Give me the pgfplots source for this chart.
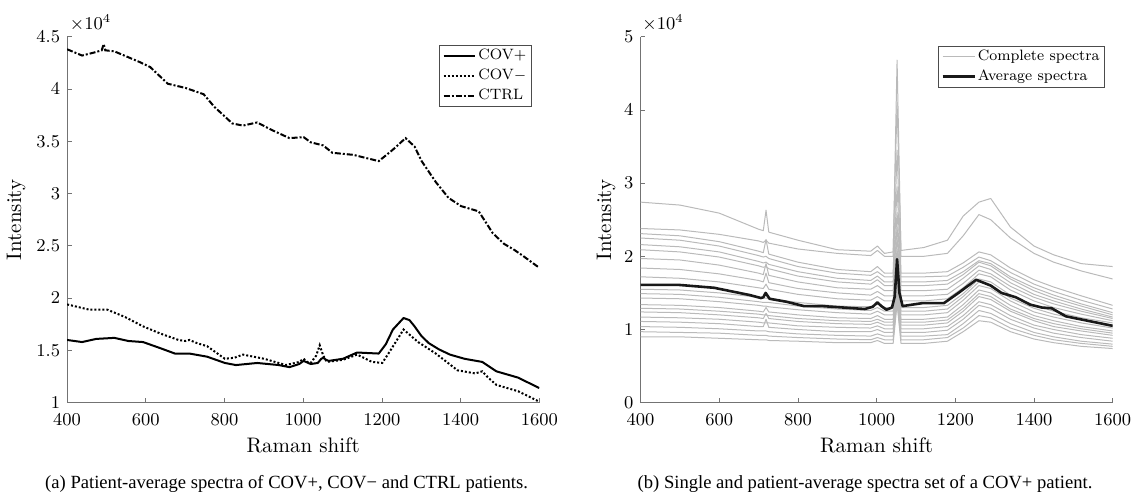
\documentclass[border=0pt]{standalone}
\usepackage{fontspec}
\usepackage{pgfplots}
\usepackage{pgfplotstable}
\pgfplotsset{compat=1.18}
\newfontfamily\capfont{Liberation Serif}

% patient averages, intensity in units of 10^4
\pgfplotstableread{
x y
400 1.60
438 1.58
474 1.61
520 1.62
556 1.59
593 1.58
638 1.52
674 1.47
711 1.47
756 1.44
801 1.38
829 1.36
883 1.38
938 1.36
965 1.34
990 1.37
1001 1.40
1019 1.37
1037 1.38
1046 1.42
1051 1.43
1058 1.41
1065 1.40
1101 1.42
1137 1.48
1192 1.47
1210 1.56
1228 1.70
1255 1.81
1270 1.79
1283 1.73
1300 1.64
1319 1.57
1345 1.51
1373 1.46
1410 1.42
1455 1.39
1491 1.30
1546 1.24
1600 1.14
}\covp

\pgfplotstableread{
x y
400 1.94
456 1.89
502 1.89
547 1.82
593 1.73
638 1.66
683 1.60
700 1.59
711 1.60
730 1.57
756 1.54
801 1.42
825 1.43
847 1.46
901 1.42
956 1.36
990 1.39
1001 1.42
1010 1.39
1019 1.38
1033 1.45
1042 1.55
1051 1.45
1060 1.39
1101 1.41
1137 1.46
1175 1.39
1201 1.38
1225 1.52
1255 1.70
1292 1.58
1337 1.47
1392 1.31
1437 1.28
1455 1.30
1470 1.24
1491 1.17
1546 1.11
1600 1.01
}\covm

\pgfplotstableread{
x y
400 4.38
438 4.32
470 4.35
488 4.37
493 4.43
497 4.37
520 4.36
583 4.26
611 4.21
656 4.05
701 4.01
747 3.95
774 3.83
820 3.67
847 3.65
883 3.68
919 3.61
965 3.53
1001 3.54
1019 3.49
1051 3.46
1074 3.39
1128 3.37
1192 3.31
1228 3.42
1260 3.53
1283 3.45
1301 3.31
1337 3.11
1369 2.96
1401 2.88
1446 2.83
1482 2.62
1510 2.52
1537 2.46
1560 2.40
1600 2.29
}\ctrl

% single spectra of one COV+ patient
\pgfplotstableread{
x s1 s2 s3 s4 s5 s6 s7 s8 s9 s10 s11 s12 s13 s14 s15 s16 s17 s18 s19 s20
400 2.74 2.38 2.31 2.25 2.16 2.09 1.97 1.84 1.72 1.55 1.49 1.43 1.34 1.29 1.24 1.17 1.11 1.04 0.97 0.90
500 2.70 2.36 2.28 2.22 2.13 2.06 1.95 1.82 1.70 1.54 1.48 1.42 1.33 1.28 1.23 1.16 1.10 1.03 0.96 0.90
600 2.59 2.30 2.20 2.14 2.06 1.99 1.88 1.76 1.65 1.50 1.44 1.38 1.30 1.25 1.20 1.14 1.08 1.01 0.95 0.88
700 2.37 2.21 2.07 2.01 1.93 1.87 1.77 1.67 1.57 1.44 1.38 1.33 1.25 1.21 1.16 1.10 1.04 0.98 0.92 0.86
712 2.35 2.19 2.05 1.99 1.91 1.85 1.75 1.65 1.56 1.43 1.37 1.32 1.24 1.20 1.15 1.09 1.04 0.98 0.92 0.86
719 2.63 2.22 2.23 2.00 1.92 1.86 1.90 1.77 1.62 1.43 1.37 1.32 1.30 1.20 1.22 1.09 1.14 0.98 0.92 0.86
726 2.33 2.18 2.03 1.97 1.89 1.83 1.74 1.64 1.55 1.42 1.37 1.31 1.24 1.19 1.15 1.09 1.03 0.97 0.91 0.85
800 2.22 2.10 1.92 1.86 1.79 1.73 1.65 1.56 1.48 1.37 1.32 1.27 1.20 1.15 1.11 1.05 1.00 0.94 0.89 0.84
900 2.09 2.04 1.82 1.77 1.70 1.65 1.57 1.50 1.42 1.32 1.28 1.23 1.16 1.12 1.08 1.03 0.97 0.92 0.87 0.82
985 2.07 2.01 1.79 1.74 1.67 1.62 1.55 1.47 1.40 1.31 1.26 1.21 1.15 1.11 1.07 1.02 0.97 0.91 0.86 0.82
1002 2.14 2.08 1.86 1.79 1.73 1.68 1.60 1.52 1.45 1.35 1.30 1.25 1.19 1.14 1.10 1.05 1.00 0.94 0.89 0.85
1020 2.04 2.00 1.77 1.72 1.65 1.60 1.53 1.46 1.39 1.30 1.25 1.20 1.14 1.10 1.06 1.01 0.96 0.91 0.86 0.81
1042 2.06 2.00 1.77 1.72 1.65 1.60 1.53 1.46 1.39 1.30 1.25 1.20 1.14 1.10 1.06 1.01 0.96 0.91 0.86 0.81
1052 4.10 4.68 3.45 2.95 2.60 2.40 2.25 2.10 2.00 1.90 1.80 1.75 1.70 1.65 1.60 1.55 1.50 1.45 1.40 1.35
1062 2.08 2.00 1.77 1.72 1.65 1.60 1.53 1.46 1.39 1.30 1.25 1.20 1.14 1.10 1.06 1.01 0.96 0.91 0.86 0.81
1120 2.12 2.00 1.77 1.72 1.65 1.60 1.53 1.46 1.39 1.30 1.25 1.20 1.14 1.10 1.06 1.01 0.96 0.91 0.86 0.81
1180 2.22 2.04 1.79 1.73 1.67 1.62 1.55 1.48 1.42 1.33 1.28 1.23 1.17 1.13 1.09 1.04 0.99 0.93 0.89 0.84
1220 2.55 2.28 1.91 1.85 1.79 1.75 1.70 1.63 1.57 1.49 1.45 1.40 1.34 1.29 1.25 1.19 1.14 1.08 1.02 0.97
1260 2.74 2.57 2.06 1.99 1.94 1.92 1.87 1.81 1.76 1.69 1.65 1.60 1.54 1.49 1.45 1.38 1.33 1.26 1.19 1.12
1290 2.79 2.50 2.02 1.94 1.90 1.87 1.82 1.76 1.72 1.65 1.61 1.56 1.50 1.45 1.41 1.34 1.29 1.22 1.16 1.10
1340 2.40 2.25 1.84 1.78 1.72 1.69 1.64 1.59 1.54 1.47 1.43 1.39 1.33 1.28 1.25 1.19 1.14 1.08 1.02 0.97
1400 2.14 2.04 1.68 1.62 1.57 1.53 1.48 1.44 1.39 1.33 1.29 1.24 1.19 1.15 1.12 1.06 1.02 0.96 0.92 0.87
1450 2.02 1.92 1.58 1.52 1.47 1.43 1.39 1.35 1.30 1.25 1.21 1.17 1.12 1.08 1.04 1.00 0.95 0.90 0.86 0.82
1520 1.90 1.80 1.46 1.40 1.35 1.32 1.28 1.25 1.21 1.16 1.13 1.09 1.04 1.01 0.98 0.93 0.89 0.84 0.81 0.77
1600 1.86 1.69 1.33 1.28 1.23 1.20 1.17 1.15 1.12 1.09 1.06 1.02 0.98 0.95 0.92 0.88 0.84 0.80 0.77 0.74
}\greytab

\pgfplotstableread{
x y
400 1.61
496 1.61
587 1.57
678 1.47
706 1.43
712 1.44
718 1.50
728 1.42
770 1.38
815 1.32
861 1.32
916 1.30
970 1.28
990 1.31
1002 1.37
1012 1.32
1025 1.27
1039 1.30
1046 1.45
1052 1.96
1058 1.50
1066 1.32
1116 1.36
1171 1.36
1208 1.50
1253 1.68
1290 1.60
1317 1.50
1354 1.44
1390 1.34
1420 1.30
1445 1.29
1481 1.18
1545 1.11
1600 1.05
}\avg

\pgfplotsset{
  matlab/.style={
    scale only axis, width=236.1pt, height=183pt,
    axis x line*=bottom, axis y line*=left,
    axis line style={black!55, line width=0.4pt},
    tick align=inside, major tick length=2.2pt,
    tick style={black!55, line width=0.4pt},
    xmin=400, xmax=1600, xtick={400,600,...,1600},
    scaled ticks=false,
    /pgf/number format/set thousands separator={},
    tick label style={font=\fontsize{9}{10}\selectfont},
    xticklabel style={yshift=-2pt},
    label style={font=\fontsize{10.5}{12}\selectfont},
    xlabel={Raman shift}, ylabel={Intensity},
    xlabel style={at={(axis description cs:0.5,0)}, anchor=center, yshift=-21.2pt},
    legend cell align=left,
    legend style={font=\fontsize{7.5}{9}\selectfont, draw=black!70, line width=0.4pt,
      anchor=north east, inner xsep=1.5pt, inner ysep=0.75pt, row sep=1pt,
      nodes={inner sep=1pt, text height=5.5pt, text depth=1.5pt}},
    legend image code/.code={\draw[#1] plot coordinates {(0cm,0cm) (0.28cm,0cm) (0.56cm,0cm)};},
  },
  greyspec/.style={black!27, line width=0.5pt, line join=round},
}

\begin{document}
\begin{tikzpicture}
\path[use as bounding box] (0,0) rectangle (566.5pt,247pt);

\begin{axis}[matlab, name=A, at={(33.55pt,45.65pt)}, anchor=south west,
  ymin=1, ymax=4.5, ytick={1,1.5,...,4.5},
  ylabel style={at={(axis description cs:0,0.5)}, anchor=center, yshift=25.5pt},
  legend style={at={(axis description cs:1,1)}, xshift=-3.8pt, yshift=-4.15pt}]
\addplot[black, line width=1pt, line join=round] table[x=x,y=y]{\covp};
\addlegendentry{COV+}
\addplot[black, line width=1pt, dash pattern=on 1pt off 1pt] table[x=x,y=y]{\covm};
\addlegendentry{COV$-$}
\addplot[black, line width=1pt, dash pattern=on 3pt off 1pt on 1pt off 1pt] table[x=x,y=y]{\ctrl};
\addlegendentry{CTRL}
\end{axis}
\node[anchor=base west, inner sep=0pt, font=\fontsize{9}{10}\selectfont]
  at ([xshift=1.2pt,yshift=3.5pt]A.north west) {$\times10^{4}$};

\begin{axis}[matlab, name=B, at={(320.25pt,45.65pt)}, anchor=south west,
  ymin=0, ymax=5, ytick={0,1,...,5},
  ylabel style={at={(axis description cs:0,0.5)}, anchor=center, yshift=17.25pt},
  legend style={at={(axis description cs:1,1)}, xshift=-3.85pt, yshift=-4.5pt}]
\pgfplotsinvokeforeach{1,...,20}{
  \addplot[greyspec, forget plot] table[x=x,y=s#1]{\greytab};
}
\addlegendimage{greyspec}
\addlegendentry{Complete spectra}
\addplot[black!90, line width=1.3pt, line join=round] table[x=x,y=y]{\avg};
\addlegendentry{Average spectra}
\end{axis}
\node[anchor=base west, inner sep=0pt, font=\fontsize{9}{10}\selectfont]
  at ([xshift=0.75pt,yshift=3.5pt]B.north west) {$\times10^{4}$};

\node[font=\capfont\fontsize{9.3}{11}\selectfont] at (143.3pt,4.8pt)
  {(a) Patient-average spectra of COV+, COV− and CTRL patients.};
\node[font=\capfont\fontsize{9.3}{11}\selectfont] at (432.5pt,4.8pt)
  {(b) Single and patient-average spectra set of a COV+ patient.};
\end{tikzpicture}
\end{document}
